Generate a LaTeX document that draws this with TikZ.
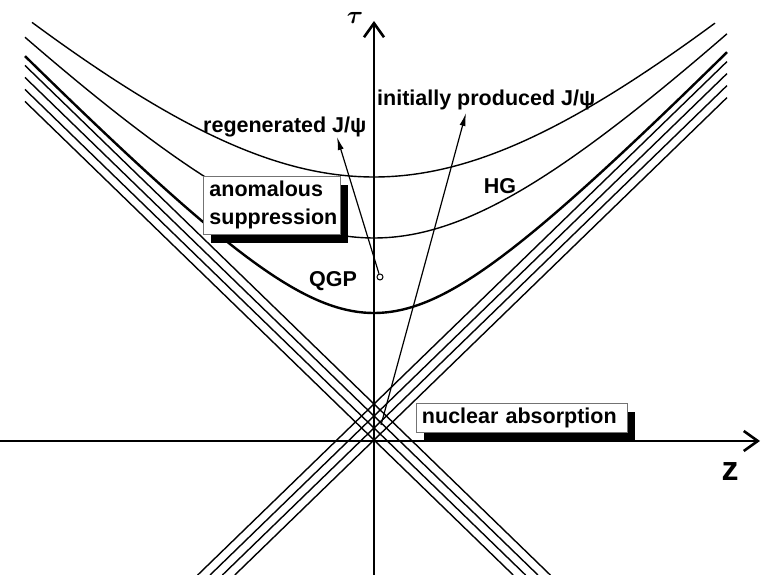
\documentclass[tikz,border=0pt]{standalone}
\usepackage{fontspec}
\setmainfont{Liberation Sans}
\usetikzlibrary{arrows.meta,shadows}

\begin{document}
\begin{tikzpicture}[
      x=1pt,
      y=1pt,
      font=\fontsize{21.5}{28}\selectfont\bfseries,
      world/.style={line width=1.4pt},
      front/.style={line width=2.4pt},
      axis/.style={line width=1.8pt, -{Straight Barb[length=14pt,width=20pt,line width=2.6pt]}},
      label/.style={inner sep=0pt},
      shadowbox/.style={draw=black!55, line width=0.9pt, fill=white, align=left, inner ysep=2pt,
        general shadow={fill=black, shadow xshift=8pt, shadow yshift=-9pt}},
      jpsi/.style={-{Latex[length=13pt,width=6pt]}, line width=1.2pt}
  ]
  % frame: 761 x 575, origin where the axes cross
  \useasboundingbox (-374,-134) rectangle (387,441);

  % --- world lines of the two nuclei ---
  \foreach \h in {1,13,25,37} {
    \draw[world] ({(-134-\h)/0.97},-134) -- (353,{\h+0.97*353});
    \draw[world] (-349,{\h+0.97*349}) -- ({(134+\h)/0.97},-134);
  }

  % --- hyperbolas of constant proper time ---
  \draw[world] plot[domain=-342:341, samples=90, smooth] (\x, {100*sqrt(2.64^2+(0.95*\x/100)^2)});
  \draw[world] plot[domain=-349:353, samples=90, smooth] (\x, {100*sqrt(2.03^2+(1.0*\x/100)^2)});
  \draw[front] plot[domain=-349:353, samples=90, smooth] (\x, {100*sqrt(1.28^2+(1.04*\x/100)^2)});

  % --- axes ---
  \coordinate (ztail)  at (-374,0);
  \coordinate (ztip)   at (386,0);
  \coordinate (taubot) at (0,-134);
  \coordinate (tautip) at (0,420);
  \draw[axis] (ztail) -- (ztip);
  \draw[axis] (taubot) -- (tautip);
  \node[label, font=\fontsize{34}{34}\selectfont\bfseries] (zlab) at (356,-31) {z};
  \node[label, font=\fontsize{26}{26}\selectfont\boldmath] (taulab) at (-19,423) {$\tau$};

  % --- phase labels ---
  \node[label] (hg)  at (126,255) {HG};
  \node[label] (qgp) at (-41,160) {QGP};

  % --- boxes ---
  \node[shadowbox, text width=124pt, inner xsep=6.5pt, minimum height=58pt] (anomal) at (-102.5,236) {anomalous\\suppression};
  \node[shadowbox, text width=199pt, inner xsep=6pt, minimum height=29pt] (nucabs) at (147.5,23.5) {nuclear absorption};

  % --- J/psi arrows ---
  \node[circle, draw, line width=1pt, inner sep=0pt, minimum size=6pt] (birth) at (6,164) {};
  \coordinate (regtip)  at (-37,304);
  \coordinate (born)    at (7,16);
  \coordinate (inittip) at (92,328);
  \draw[jpsi] (birth) -- (regtip);
  \draw[jpsi] (born) -- (inittip);
  \node[label, anchor=west] (reglab)  at (-171,314) {regenerated J/ψ};
  \node[label, anchor=west] (initlab) at (3,341) {initially produced J/ψ};

\end{tikzpicture}
\end{document}
